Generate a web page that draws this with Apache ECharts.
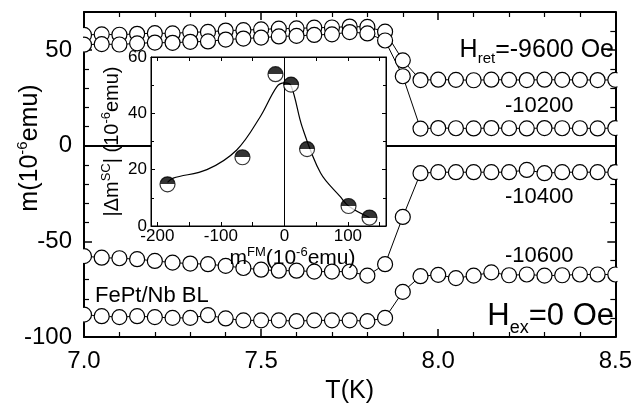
<!DOCTYPE html>
<html>
<head>
<meta charset="utf-8">
<script src="https://cdn.jsdelivr.net/npm/echarts@6/dist/echarts.min.js"></script>
<style>
  html, body { margin: 0; padding: 0; background: #fff; }
  #chart { width: 635px; height: 409px; }
</style>
</head>
<body>
<div id="chart"></div>
<script>
// temperature points (K)
const temps = [7.00, 7.05, 7.10, 7.15, 7.20, 7.25, 7.30, 7.35, 7.40, 7.45, 7.50,
  7.55, 7.60, 7.65, 7.70, 7.75, 7.80, 7.85, 7.90, 7.95, 8.00,
  8.05, 8.10, 8.15, 8.20, 8.25, 8.30, 8.35, 8.40, 8.45, 8.50]

// m (1e-6 emu) for each retained field
const m9600 = [58.0, 58.3, 58.1, 58.6, 58.9, 58.8, 59.4, 59.6, 60.3, 60.5, 60.9,
  61.3, 61.4, 61.8, 61.9, 62.4, 62.2, 59.7, 44.7, 34.4, 34.6,
  34.5, 34.3, 34.6, 34.5, 34.4, 34.6, 34.5, 34.5, 34.4, 34.5]
const m10200 = [52.9, 53.2, 53.0, 53.6, 54.0, 53.9, 54.4, 54.6, 55.6, 56.1, 56.6,
  57.2, 57.5, 58.0, 58.3, 59.5, 58.8, 55.1, 36.4, 9.0, 9.3,
  9.2, 9.1, 9.3, 9.2, 9.1, 9.3, 9.2, 9.2, 9.1, 9.3]
const m10400 = [-57.7, -58.5, -58.8, -59.3, -60.2, -61.1, -61.6, -61.9, -62.8, -63.9, -64.8,
  -65.3, -65.3, -65.8, -65.8, -65.8, -67.9, -61.9, -37.2, -14.3, -13.8,
  -13.8, -13.8, -13.8, -13.8, -12.6, -14.3, -13.8, -13.8, -13.8, -13.8]
const m10600 = [-88.3, -89.1, -89.6, -89.1, -89.6, -90.0, -90.0, -88.6, -90.3, -91.3, -91.3,
  -91.3, -91.7, -91.3, -91.3, -91.3, -91.7, -90.0, -76.4, -68.2, -67.5,
  -69.2, -67.9, -66.2, -67.7, -67.3, -67.9, -67.7, -67.3, -67.3, -67.3]

// inset: |dm_SC| vs m_FM
const mFM = [-184, -66, -14, 10.5, 35.7, 101, 134]
const dmSC = [14.8, 24.4, 53.9, 50.2, 27.3, 7.1, 3.0]
// guide curve through the inset points
const fitX = [-184, -175, -122, -75, -38, -12, 0, 10.5, 28, 57, 88, 102, 134]
const fitY = [15.5, 17.0, 20.0, 27.0, 38.8, 49.4, 50.8, 49.8, 35.2, 18.8, 10.4, 6.9, 3.0]

const font = 'Liberation Sans, Arial, Helvetica, sans-serif'
const black = '#000'

const chart = echarts.init(document.getElementById('chart'))

function pairs(xs, ys) {
  return xs.map((x, i) => [x, ys[i]])
}

function tSeries(name, vals, extra) {
  return Object.assign({
    name,
    type: 'line',
    xAxisIndex: 0,
    yAxisIndex: 0,
    data: pairs(temps, vals),
    symbol: 'circle',
    symbolSize: 15,
    showAllSymbol: true,
    lineStyle: { color: black, width: 1 },
    itemStyle: { color: '#fff', borderColor: black, borderWidth: 1.2 },
    z: 2
  }, extra || {})
}

const halfFill = {
  type: 'linear', x: 0, y: 0, x2: 0, y2: 1,
  colorStops: [
    { offset: 0, color: '#000' },
    { offset: 0.5, color: '#000' },
    { offset: 0.5, color: '#fff' },
    { offset: 1, color: '#fff' }
  ]
}

const mainTick = { inside: true, length: 8, lineStyle: { color: black, width: 1.5 } }
const mainMinor = { show: true, splitNumber: 5, length: 5, lineStyle: { color: black, width: 1.2 } }
const insetTick = { inside: true, length: 4, lineStyle: { color: black, width: 1 } }

chart.setOption({
  animation: false,
  backgroundColor: '#fff',
  textStyle: { fontFamily: font, color: black },
  grid: [
    { left: 84, top: 12, width: 532, height: 331 },
    { left: 151, top: 57, width: 235, height: 169, show: true, backgroundColor: '#fff',
      borderColor: black, borderWidth: 1, z: 3 }
  ],
  xAxis: [
    {
      gridIndex: 0, type: 'value', min: 7, max: 8.5, interval: 0.5,
      axisLine: { onZero: false, lineStyle: { color: black, width: 2 } },
      axisTick: mainTick, minorTick: mainMinor, splitLine: { show: false },
      axisLabel: { fontSize: 24, color: black, margin: 12, formatter: (v) => v.toFixed(1) },
      name: 'T(K)', nameLocation: 'middle', nameGap: 42,
      nameTextStyle: { fontSize: 25, color: black }
    },
    {
      gridIndex: 0, type: 'value', position: 'top', min: 7, max: 8.5, interval: 0.5,
      axisLine: { onZero: false, lineStyle: { color: black, width: 2 } },
      axisTick: mainTick, minorTick: mainMinor, splitLine: { show: false },
      axisLabel: { show: false }
    },
    {
      gridIndex: 1, type: 'value', min: -210, max: 160, z: 4,
      axisLine: { onZero: false, lineStyle: { color: black, width: 1 } },
      axisTick: Object.assign({ customValues: [-200, -150, -100, -50, 0, 50, 100, 150] }, insetTick),
      splitLine: { show: false },
      axisLabel: { fontSize: 17, color: black, margin: 2, customValues: [-200, -100, 0, 100] },
      name: '{a|m}{s|FM}{a|(10}{s|-6}{a|emu)}', nameLocation: 'middle', nameGap: 18,
      nameTextStyle: {
        padding: [0, 0, 0, 48],
        rich: {
          a: { fontSize: 21, color: black, fontFamily: font },
          s: { fontSize: 13, color: black, fontFamily: font, padding: [0, 0, 12, 0] }
        }
      }
    },
    {
      gridIndex: 1, type: 'value', position: 'top', min: -210, max: 160, z: 4,
      axisLine: { onZero: false, lineStyle: { color: black, width: 1 } },
      axisTick: Object.assign({ customValues: [-200, -150, -100, -50, 0, 50, 100, 150] }, insetTick),
      splitLine: { show: false }, axisLabel: { show: false }
    }
  ],
  yAxis: [
    {
      gridIndex: 0, type: 'value', min: -100, max: 70, interval: 50,
      axisLine: { onZero: false, lineStyle: { color: black, width: 2 } },
      axisTick: mainTick, minorTick: mainMinor, splitLine: { show: false },
      axisLabel: { fontSize: 24, color: black, margin: 12, showMaxLabel: false }
    },
    {
      gridIndex: 0, type: 'value', position: 'right', min: -100, max: 70, interval: 50,
      axisLine: { onZero: false, lineStyle: { color: black, width: 2 } },
      axisTick: mainTick, minorTick: mainMinor, splitLine: { show: false },
      axisLabel: { show: false }
    },
    {
      gridIndex: 1, type: 'value', min: 0, max: 60, interval: 20, z: 4,
      axisLine: { onZero: false, lineStyle: { color: black, width: 1 } },
      axisTick: insetTick, minorTick: { show: true, splitNumber: 2, length: 3, lineStyle: { color: black } },
      splitLine: { show: false },
      axisLabel: { fontSize: 17, color: black, margin: 4 },
      name: '{a||\u0394m}{s|SC}{a|| (10}{s|-6}{a|emu)}', nameLocation: 'middle', nameGap: 26,
      nameTextStyle: {
        rich: {
          a: { fontSize: 20, color: black, fontFamily: font },
          s: { fontSize: 13, color: black, fontFamily: font, padding: [0, 0, 12, 0] }
        }
      }
    },
    {
      gridIndex: 1, type: 'value', position: 'right', min: 0, max: 60, interval: 20, z: 4,
      axisLine: { onZero: false, lineStyle: { color: black, width: 1 } },
      axisTick: insetTick, minorTick: { show: true, splitNumber: 2, length: 3, lineStyle: { color: black } },
      splitLine: { show: false }, axisLabel: { show: false }
    }
  ],
  series: [
    tSeries('-9600', m9600, {
      markLine: {
        silent: true, z: 2, symbol: ['none', 'none'], label: { show: false },
        lineStyle: { color: black, width: 2, type: 'solid' },
        data: [{ yAxis: 0 }]
      }
    }),
    tSeries('-10200', m10200),
    tSeries('-10400', m10400),
    tSeries('-10600', m10600),
    {
      name: 'fit', type: 'line', xAxisIndex: 2, yAxisIndex: 2, z: 5,
      data: pairs(fitX, fitY), smooth: 0.35, showSymbol: false,
      lineStyle: { color: black, width: 1.2 },
      markLine: {
        silent: true, z: 5, symbol: ['none', 'none'], label: { show: false },
        lineStyle: { color: black, width: 1, type: 'solid' },
        data: [{ xAxis: 0 }]
      }
    },
    {
      name: 'dmSC', type: 'scatter', xAxisIndex: 2, yAxisIndex: 2, z: 6,
      data: pairs(mFM, dmSC), symbol: 'circle', symbolSize: 15,
      itemStyle: { color: halfFill, borderColor: black, borderWidth: 1.2 }
    }
  ],
  graphic: [
    // hide the part of edge circles outside the frame
    { type: 'rect', z: 3, silent: true, shape: { x: 75, y: 12, width: 8, height: 331 }, style: { fill: '#fff' } },
    { type: 'rect', z: 3, silent: true, shape: { x: 617.5, y: 12, width: 10, height: 331 }, style: { fill: '#fff' } },
    {
      type: 'text', x: 30, y: 148, rotation: Math.PI / 2, z: 10,
      style: {
        text: '{a|m(10}{s|-6}{a|emu)}', align: 'center', verticalAlign: 'middle',
        rich: {
          a: { fontSize: 25, fill: black, fontFamily: font },
          s: { fontSize: 15, fill: black, fontFamily: font, padding: [0, 0, 14, 0] }
        }
      }
    },
    {
      type: 'text', x: 614, y: 50, z: 10,
      style: {
        text: '{a|H}{b|ret}{a|=-9600 Oe}', align: 'right', verticalAlign: 'middle',
        rich: {
          a: { fontSize: 25, fill: black, fontFamily: font },
          b: { fontSize: 15, fill: black, fontFamily: font, padding: [18, 0, 0, 0] }
        }
      }
    },
    { type: 'text', x: 505, y: 106, z: 10, style: { text: '-10200', fontSize: 22, fill: black, fontFamily: font, verticalAlign: 'middle' } },
    { type: 'text', x: 505, y: 197, z: 10, style: { text: '-10400', fontSize: 22, fill: black, fontFamily: font, verticalAlign: 'middle' } },
    { type: 'text', x: 505, y: 256, z: 10, style: { text: '-10600', fontSize: 22, fill: black, fontFamily: font, verticalAlign: 'middle' } },
    { type: 'text', x: 95, y: 296, z: 10, style: { text: 'FePt/Nb BL', fontSize: 22, fill: black, fontFamily: font, verticalAlign: 'middle' } },
    {
      type: 'text', x: 614, y: 316, z: 10,
      style: {
        text: '{a|H}{b|ex}{a|=0 Oe}', align: 'right', verticalAlign: 'middle',
        rich: {
          a: { fontSize: 31, fill: black, fontFamily: font },
          b: { fontSize: 18, fill: black, fontFamily: font, padding: [24, 0, 0, 0] }
        }
      }
    }
  ]
})
</script>
</body>
</html>
